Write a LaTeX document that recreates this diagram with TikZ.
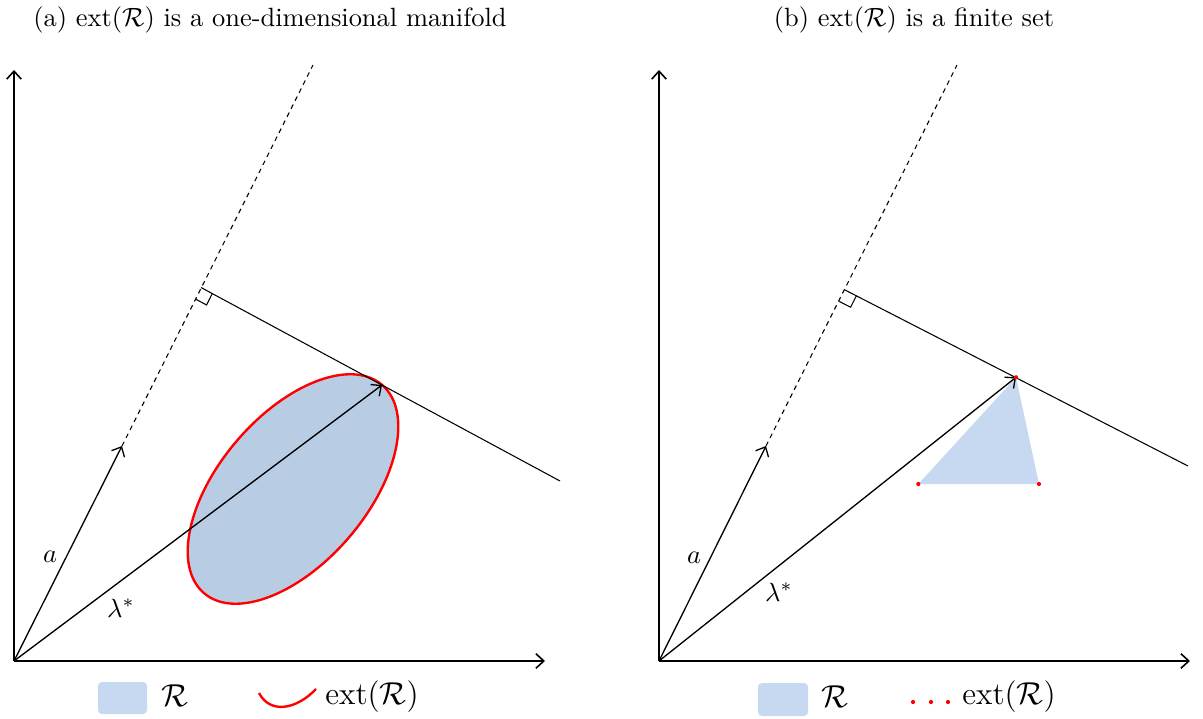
\documentclass[tikz,border=0pt]{standalone}
\usepackage{amsmath,amssymb}
\usepackage{xcolor}
\usepackage{tikz}
\usetikzlibrary{arrows.meta,calc}
\definecolor{regblue}{HTML}{B8CCE4}
\definecolor{reglight}{HTML}{C6D9F0}

\begin{document}
\begin{tikzpicture}[x=0.0133cm,y=0.0133cm,
  axis/.style={-{Straight Barb[length=3pt,width=5.5pt]},line width=0.6pt},
  vec/.style={-{Straight Barb[length=3pt,width=5.5pt]},line width=0.5pt},
  ortho/.style={line width=0.4pt},
  guide/.style={line width=0.4pt,dash pattern=on 1.8pt off 1.6pt},
  extline/.style={red,line width=0.9pt},
  swatch/.style={fill=reglight,rounded corners=1.5pt},
  extdot/.style={fill=red},
  legtext/.style={font=\large}]
  \def\rs{0.17cm}          % right-angle mark size
  \def\dr{0.8pt}           % radius of ext points
  \useasboundingbox (0,0) rectangle (1203,718);
  % --- Titles ---
  \node (ta) at (270,698) {(a) $\mathrm{ext}(\mathcal{R})$ is a one-dimensional manifold};
  \node (tb) at (914,698) {(b) $\mathrm{ext}(\mathcal{R})$ is a finite set};
  % === Panel (a): smooth region ===
  \coordinate (Oa) at (14,57);
  \coordinate (Ya) at (14,648);
  \coordinate (Xa) at (545,57);
  \coordinate (Aa) at (122,272);
  \coordinate (Fa) at (201,430.5);
  \coordinate (Da) at (313,653);
  \coordinate (Pa) at (382,333);
  \coordinate (Ea) at (560,237);
  % region R with its boundary
  \draw[extline,fill=regblue,rotate around={49.5:(293,229)}]
    (293,229) ellipse [x radius=137,y radius=74];
  % axes
  \draw[axis] (Oa) -- (Ya);
  \draw[axis] (Oa) -- (Xa);
  % direction a and its extension
  \draw[guide] (Aa) -- (Da);
  \draw[vec] (Oa) -- (Aa);
  % supporting line through lambda*
  \draw[ortho] (Fa) -- (Ea);
  \draw[vec] (Oa) -- (Pa);
  % right-angle mark
  \coordinate (Ma1) at ($(Fa)!\rs!(Pa)$);
  \coordinate (Ma2) at ($(Fa)!\rs!(Aa)$);
  \draw[ortho] (Ma1) -- ($(Ma1)+(Ma2)-(Fa)$) -- (Ma2);
  \node (la) at (50,161) {$a$};
  \node (lla) at (121,110) {$\lambda^*$};
  % legend (a)
  \path[swatch] (98,4) rectangle (147,36);
  \node[legtext] (lRa) at (175,22) {$\mathcal{R}$};
  \draw[extline] (259,25) .. controls (270,4) and (296,8) .. (316,29);
  \node[legtext] (lEa) at (372,21) {$\mathrm{ext}(\mathcal{R})$};
  % === Panel (b): polytope ===
  \coordinate (Ob) at (659,57);
  \coordinate (Yb) at (659,648);
  \coordinate (Xb) at (1190,57);
  \coordinate (Ab) at (766,272);
  \coordinate (Fb) at (845,428);
  \coordinate (Db) at (957,653);
  \coordinate (Pb) at (1016,340.7);
  \coordinate (Eb) at (1188,252);
  \coordinate (Tb1) at (918.3,234);
  \coordinate (Tb2) at (1039,234);
  % region R
  \fill[reglight] (Pb) -- (Tb1) -- (Tb2) -- cycle;
  % axes
  \draw[axis] (Ob) -- (Yb);
  \draw[axis] (Ob) -- (Xb);
  % direction a and its extension
  \draw[guide] (Ab) -- (Db);
  \draw[vec] (Ob) -- (Ab);
  % supporting line through lambda*
  \draw[ortho] (Fb) -- (Eb);
  \draw[vec] (Ob) -- (Pb);
  % right-angle mark
  \coordinate (Mb1) at ($(Fb)!\rs!(Pb)$);
  \coordinate (Mb2) at ($(Fb)!\rs!(Ab)$);
  \draw[ortho] (Mb1) -- ($(Mb1)+(Mb2)-(Fb)$) -- (Mb2);
  % extreme points
  \foreach \p in {Pb,Tb1,Tb2}
    \fill[extdot] (\p) circle (\dr);
  \node (lb) at (694,160) {$a$};
  \node (llb) at (779,126) {$\lambda^*$};
  % legend (b)
  \path[swatch] (758,2) rectangle (808,35);
  \node[legtext] (lRb) at (835,21) {$\mathcal{R}$};
  \foreach \x in {913,931,948}
    \fill[extdot] (\x,16) circle (\dr);
  \node[legtext] (lEb) at (1009,21) {$\mathrm{ext}(\mathcal{R})$};
\end{tikzpicture}
\end{document}
